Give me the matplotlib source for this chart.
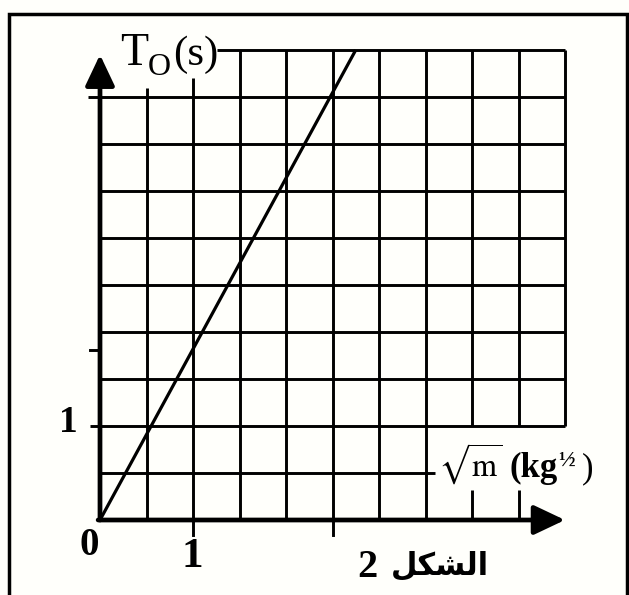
import matplotlib
matplotlib.use("Agg")
import matplotlib.pyplot as plt
import numpy as np

# ---- data ----
sqrt_m = [0.0, 2.75]          # sqrt(m) in kg^1/2
T0 = [0.0, 5.0]               # T0 in s
x_ticks = [1.0]
x_tick_labels = ["1"]
y_ticks = [1.0]
y_tick_labels = ["1"]
origin_label = "0"
grid_step = 0.5
x_max = 5.0
y_max = 5.0
caption_number = "2"
caption_word = "\uFEDE\uFEDC\uFEB8\uFEDF\uFE8D"   # "الشكل" in visual (presentation) forms

W, H = 629, 595
BG = "#fffffb"
plt.rcParams["mathtext.fontset"] = "stix"
fig = plt.figure(figsize=(W / 100, H / 100), dpi=100, facecolor=BG)

# background axes in pixel coordinates for the frame
bg = fig.add_axes([0, 0, 1, 1])
bg.set_xlim(0, W)
bg.set_ylim(H, 0)
bg.axis("off")
bg.plot([9, 9, 627, 627], [H + 5, 14, 14, H + 5], color="black", lw=2.5,
        solid_joinstyle="miter")

# main axes: origin at pixel (100,520), (5,5) at (565,50)
x0, y0, x1, y1 = 100, 520, 565, 50
ax = fig.add_axes([x0 / W, (H - y0) / H, (x1 - x0) / W, (y0 - y1) / H])
ax.set_xlim(0, x_max)
ax.set_ylim(0, y_max)
ax.axis("off")
ax.patch.set_alpha(0)

glw = 2.1
k = "black"
# vertical grid lines (with the gaps of the reference)
for xv in np.arange(grid_step, x_max + 1e-9, grid_step):
    if abs(xv - 0.5) < 1e-6:
        segs = [(0, 4.6)]
    elif abs(xv - 1.0) < 1e-6:
        segs = [(0, 4.7)]
    elif xv > 3.75 and xv < 4.75:
        segs = [(0, 0.32), (1.0, y_max)]
    elif xv > 4.75:
        segs = [(1.0, y_max)]
    else:
        segs = [(0, y_max)]
    for a, b in segs:
        ax.plot([xv, xv], [a, b], color=k, lw=glw, clip_on=False,
                solid_capstyle="butt")

# horizontal grid lines
for yv in np.arange(grid_step, y_max + 1e-9, grid_step):
    if abs(yv - 5.0) < 1e-6:
        a, b = 1.26, x_max
    elif abs(yv - 4.5) < 1e-6:
        a, b = -0.13, x_max
    elif abs(yv - 1.0) < 1e-6:
        a, b = -0.11, x_max
    elif abs(yv - 0.5) < 1e-6:
        a, b = 0, 3.6
    else:
        a, b = 0, x_max
    ax.plot([a, b], [yv, yv], color=k, lw=glw, clip_on=False,
            solid_capstyle="butt")

# small extra ticks
ax.plot([-0.11, 0], [1.81, 1.81], color=k, lw=glw, clip_on=False)
for xv in [1.0, 2.5]:
    ax.plot([xv, xv], [0, -0.16], color=k, lw=glw, clip_on=False)

# axes with arrows
arrow = dict(arrowstyle="-|>,head_length=0.95,head_width=0.45", lw=3.4,
             color=k, mutation_scale=20, shrinkA=0, shrinkB=0)
ax.annotate("", xy=(0, 4.95), xytext=(0, 0), arrowprops=arrow,
            annotation_clip=False)
ax.annotate("", xy=(5.0, 0), xytext=(-0.02, 0), arrowprops=arrow,
            annotation_clip=False)

# the data line
ax.plot(sqrt_m, T0, color=k, lw=2.3, clip_on=False, solid_capstyle="butt")

serif = "Liberation Serif"
# y label T_O(s)
ax.text(0.215, 4.84, "T", family=serif, fontsize=33, ha="left", va="baseline")
ax.text(0.516, 4.73, "O", family=serif, fontsize=23, ha="left", va="baseline")
ax.text(0.785, 4.84, "(s)", family=serif, fontsize=31, ha="left", va="baseline")

# x label sqrt(m) (kg^1/2)
ax.text(3.63, 0.457, r"$\sqrt{\mathrm{m}}$", fontsize=23, ha="left",
        va="baseline")
ax.text(4.40, 0.457, "(kg", family=serif, fontsize=25, fontweight="bold",
        ha="left", va="baseline")
ax.text(4.93, 0.58, "\u00bd", family=serif, fontsize=16, fontweight="bold",
        ha="left", va="baseline")
ax.text(5.185, 0.457, ")", family=serif, fontsize=25, ha="left",
        va="baseline")

# tick labels
for v, lab in zip(y_ticks, y_tick_labels):
    ax.text(-0.344, v + 0.04, lab, family=serif, fontsize=27, fontweight="bold",
            ha="center", va="center")
for v, lab in zip(x_ticks, x_tick_labels):
    ax.text(v - 0.011, -0.394, lab, family=serif, fontsize=31,
            fontweight="bold", ha="center", va="center")
ax.text(-0.118, -0.266, origin_label, family=serif, fontsize=28,
        fontweight="bold", ha="center", va="center")

# caption
ax.text(2.88, -0.51, caption_number, family=serif, fontsize=29,
        fontweight="bold", ha="center", va="center")
ax.text(3.656, -0.48, caption_word, family="DejaVu Sans", fontsize=22,
        fontweight="bold", ha="center", va="center")

fig.savefig("out.png", dpi=100, facecolor=BG)
